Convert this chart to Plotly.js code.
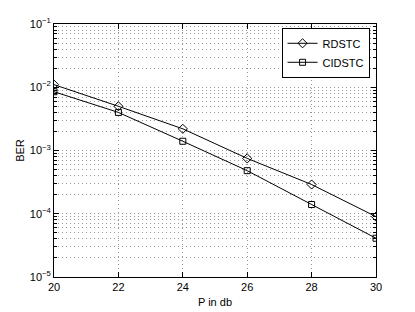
<!DOCTYPE html>
<html><head><meta charset="utf-8">
<script src="https://cdn.plot.ly/plotly-3.0.1.min.js"></script>
<style>html,body{margin:0;padding:0;background:#fff}#c{width:415px;height:312px}</style>
</head><body><div id="c"></div>
<script>
var pdb = [20, 22, 24, 26, 28, 30];
var rdstc = [1.1e-2, 5.0e-3, 2.2e-3, 7.5e-4, 2.9e-4, 9.0e-5];
var cidstc = [8.5e-3, 4.0e-3, 1.4e-3, 4.8e-4, 1.4e-4, 4.1e-5];
var yTickVals = [1e-5, 1e-4, 1e-3, 1e-2, 1e-1];
var yTickText = ['10<sup>−5</sup>', '10<sup>−4</sup>', '10<sup>−3</sup>', '10<sup>−2</sup>', '10<sup>−1</sup>'];
var xTickVals = [20, 22, 24, 26, 28, 30];

var traces = [
  {x: pdb, y: rdstc, name: 'RDSTC', mode: 'lines+markers', type: 'scatter',
   line: {color: '#000', width: 1}, marker: {symbol: 'diamond-open', size: 7, color: '#000', line: {width: 1}}},
  {x: pdb, y: cidstc, name: 'CIDSTC', mode: 'lines+markers', type: 'scatter',
   line: {color: '#000', width: 1}, marker: {symbol: 'square-open', size: 6, color: '#000', line: {width: 1}}}
];
var dots = '1px,3px';
var layout = {
  width: 415, height: 312,
  margin: {l: 54, r: 39, t: 24, b: 35},
  paper_bgcolor: '#fff', plot_bgcolor: '#fff',
  font: {family: 'Liberation Sans, Arial, sans-serif', size: 11, color: '#000'},
  showlegend: true,
  legend: {x: 0.98, y: 0.985, xanchor: 'right', yanchor: 'top', bgcolor: '#fff',
           bordercolor: '#000', borderwidth: 1, font: {size: 11}, tracegroupgap: 0,
           itemwidth: 30},
  xaxis: {range: [20, 30], tickvals: xTickVals, ticks: 'inside', ticklen: 5, tickcolor: '#000',
          showline: true, linecolor: '#000', linewidth: 1, mirror: 'ticks',
          showgrid: true, gridcolor: '#999', griddash: dots, zeroline: false,
          title: {text: 'P in db', standoff: 6, font: {size: 11}}},
  yaxis: {type: 'log', range: [-5, -1], tickvals: yTickVals, ticktext: yTickText,
          ticks: 'inside', ticklen: 5, tickcolor: '#000',
          showline: true, linecolor: '#000', linewidth: 1, mirror: 'ticks',
          showgrid: true, gridcolor: '#999', griddash: dots, zeroline: false,
          minor: {dtick: 'D1', showgrid: true, gridcolor: '#999', griddash: dots, ticks: 'inside', ticklen: 3, tickcolor: '#000'},
          title: {text: 'BER', standoff: 2, font: {size: 11}}}
};
Plotly.newPlot('c', traces, layout, {displayModeBar: false, staticPlot: true});
</script></body></html>
